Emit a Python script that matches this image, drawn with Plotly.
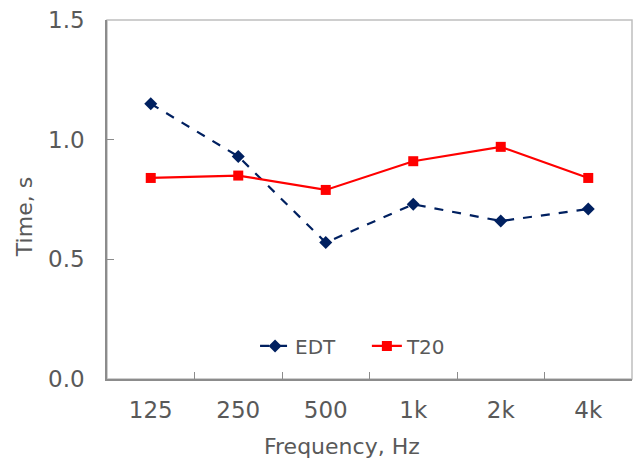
import plotly.graph_objects as go

categories = ["125", "250", "500", "1k", "2k", "4k"]
edt = [1.15, 0.93, 0.57, 0.73, 0.66, 0.71]
t20 = [0.84, 0.85, 0.79, 0.91, 0.97, 0.84]
y_ticks = [0.0, 0.5, 1.0, 1.5]

FONT = "DejaVu Sans, Verdana, sans-serif"
GRAY = "#595959"

fig = go.Figure()
fig.add_trace(go.Scatter(
    x=categories, y=edt, name="EDT", mode="lines+markers", legend="legend",
    line=dict(color="#002060", width=2.2, dash="dash"),
    marker=dict(symbol="diamond", size=10, color="#002060"),
))
fig.add_trace(go.Scatter(
    x=categories, y=t20, name="T20", mode="lines+markers", legend="legend2",
    line=dict(color="#FF0000", width=2.2),
    marker=dict(symbol="square", size=10, color="#FF0000"),
))

fig.add_shape(type="rect", xref="paper", yref="paper", x0=0, y0=0, x1=1, y1=1,
              line=dict(color="#BFBFBF", width=1.5), layer="below")

leg_common = dict(orientation="h", y=0.092, xanchor="left", yanchor="middle",
                  font=dict(size=20, color=GRAY), bgcolor="rgba(0,0,0,0)", itemwidth=30)

fig.update_layout(
    width=641, height=461,
    margin=dict(l=107, r=9, t=20, b=82),
    paper_bgcolor="white", plot_bgcolor="white",
    font=dict(family=FONT, size=22, color=GRAY),
    showlegend=True,
    legend=dict(x=0.282, **leg_common),
    legend2=dict(x=0.495, **leg_common),
    xaxis=dict(
        type="category", range=[-0.5, 5.5], showgrid=False, automargin=False,
        showline=True, linecolor="#8C8C8C", linewidth=1.5,
        ticks="inside", ticklen=7, tickcolor="#8C8C8C", tickson="boundaries",
        tickfont=dict(size=23, color=GRAY), ticklabelstandoff=10,
    ),
    yaxis=dict(
        range=[0, 1.5], tickvals=y_ticks, tickformat=".1f", showgrid=False, zeroline=False,
        automargin=False,
        showline=True, linecolor="#8C8C8C", linewidth=1.5,
        ticks="inside", ticklen=7, tickcolor="#8C8C8C",
        tickfont=dict(size=23, color=GRAY), ticklabelstandoff=16,
    ),
    annotations=[
        dict(text="Frequency, Hz", xref="paper", yref="paper", x=0.448, y=-0.189,
             xanchor="center", yanchor="middle", showarrow=False,
             font=dict(size=22, color=GRAY)),
        dict(text="Time, s", xref="paper", yref="paper", x=-0.158, y=0.451,
             xanchor="center", yanchor="middle", showarrow=False, textangle=-90,
             font=dict(size=22, color=GRAY)),
    ],
)

fig.write_html("out.html")
